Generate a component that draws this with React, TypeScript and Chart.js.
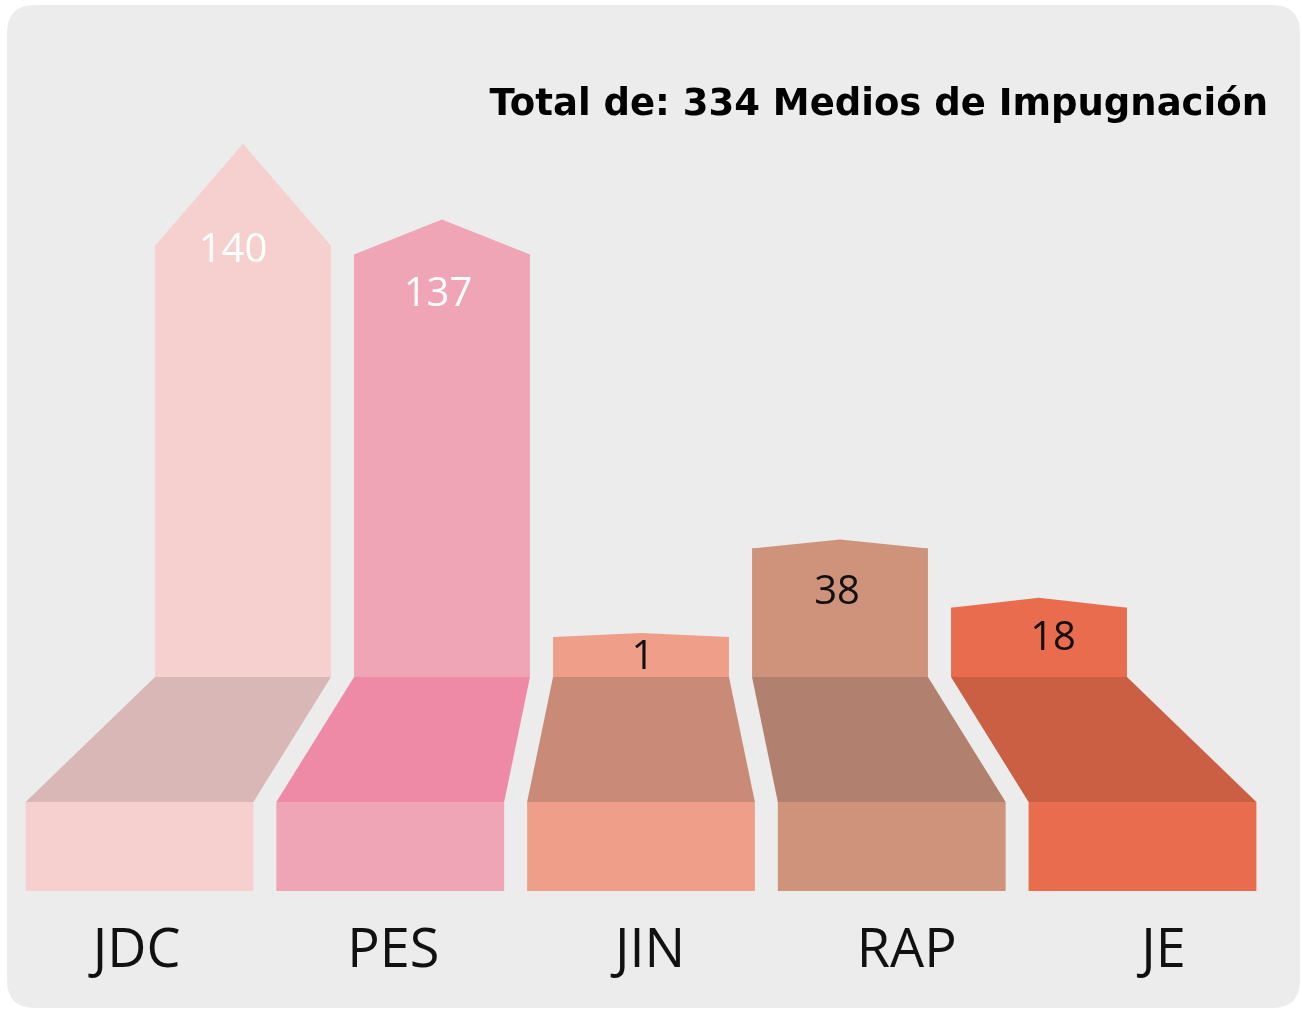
import React, { useEffect, useRef } from "react";
import { Chart, registerables } from "chart.js";

Chart.register(...registerables);

// ---- data ----
const CATEGORIES = ["JDC", "PES", "JIN", "RAP", "JE"];
const COUNTS = [140, 137, 1, 38, 18];
const TITLE = "Total de: 334 Medios de Impugnación";

// ---- styling ----
const BAR_COLORS = ["#f6d0cf", "#f0a5b7", "#ef9f89", "#cf937b", "#e96c4e"];
const FLOOR_COLORS = ["#d9b7b6", "#ee89a6", "#c98a77", "#b2806e", "#cb5f43"];
const VALUE_COLORS = ["#ffffff", "#ffffff", "#111111", "#111111", "#111111"];
const TIP_RISE = [102, 35, 4, 9, 10];
const LABEL_DROP = [5, 40, 21, 44, 31];
const LABEL_NUDGE = [-10, -4, 2, -3, 14];

const W = 1302;
const H = 1009;
const Y_MIN = -5.3;
const Y_MAX = 150;
const FLOOR_DEPTH = 125;
const FRONT_HEIGHT = 89;
const FLOOR_POS_SPREAD = 1.26;
const FLOOR_WIDTH_SPREAD = 1.295;
const LABEL_SPREAD = 1.29;
const LABEL_SHIFT = 9;
const LABEL_BASELINE_GAP = 290;

function roundRect(ctx: CanvasRenderingContext2D, x: number, y: number, w: number, h: number, r: number) {
  ctx.beginPath();
  ctx.moveTo(x + r, y);
  ctx.lineTo(x + w - r, y);
  ctx.quadraticCurveTo(x + w, y, x + w, y + r);
  ctx.lineTo(x + w, y + h - r);
  ctx.quadraticCurveTo(x + w, y + h, x + w - r, y + h);
  ctx.lineTo(x + r, y + h);
  ctx.quadraticCurveTo(x, y + h, x, y + h - r);
  ctx.lineTo(x, y + r);
  ctx.quadraticCurveTo(x, y, x + r, y);
  ctx.closePath();
}

const infographicPlugin = {
  id: "infographic",
  beforeDraw(chart: any) {
    const ctx: CanvasRenderingContext2D = chart.ctx;
    ctx.save();
    ctx.fillStyle = "#ffffff";
    ctx.fillRect(0, 0, chart.width, chart.height);
    ctx.fillStyle = "#ececec";
    roundRect(ctx, 7, 5, 1293, 1003, 28);
    ctx.fill();
    ctx.fillStyle = "#000000";
    ctx.font = "bold 37px 'DejaVu Sans'";
    ctx.textAlign = "right";
    ctx.textBaseline = "alphabetic";
    ctx.fillText(TITLE, 1268, 115);
    ctx.restore();
  },
  afterDatasetsDraw(chart: any) {
    const ctx: CanvasRenderingContext2D = chart.ctx;
    const area = chart.chartArea;
    const cx = (area.left + area.right) / 2;
    const meta = chart.getDatasetMeta(0);
    ctx.save();
    meta.data.forEach((bar: any, i: number) => {
      const { x, y, base, width } = bar.getProps(["x", "y", "base", "width"], true);
      const x0 = x - width / 2;
      const x1 = x + width / 2;
      // pointed top
      ctx.fillStyle = BAR_COLORS[i];
      ctx.beginPath();
      ctx.moveTo(x0, y + 1);
      ctx.lineTo(x0, y);
      ctx.lineTo(x, y - TIP_RISE[i]);
      ctx.lineTo(x1, y);
      ctx.lineTo(x1, y + 1);
      ctx.closePath();
      ctx.fill();
      // perspective floor
      const fx = cx + (x - cx) * FLOOR_POS_SPREAD;
      const fw = width * FLOOR_WIDTH_SPREAD;
      const fy = base + FLOOR_DEPTH;
      ctx.fillStyle = FLOOR_COLORS[i];
      ctx.beginPath();
      ctx.moveTo(x0, base);
      ctx.lineTo(x1, base);
      ctx.lineTo(fx + fw / 2, fy);
      ctx.lineTo(fx - fw / 2, fy);
      ctx.closePath();
      ctx.fill();
      // front block
      ctx.fillStyle = BAR_COLORS[i];
      ctx.fillRect(fx - fw / 2, fy, fw, FRONT_HEIGHT);
      // value label
      ctx.fillStyle = VALUE_COLORS[i];
      ctx.font = "40px 'Open Sans'";
      ctx.textAlign = "center";
      ctx.textBaseline = "middle";
      ctx.fillText(String(COUNTS[i]), x + LABEL_NUDGE[i], y + LABEL_DROP[i]);
      // category label
      ctx.fillStyle = "#111111";
      ctx.font = "54px 'Open Sans'";
      ctx.textBaseline = "alphabetic";
      const lx = cx + LABEL_SHIFT + (x - cx) * LABEL_SPREAD;
      ctx.fillText(CATEGORIES[i], lx, base + LABEL_BASELINE_GAP);
    });
    ctx.restore();
  },
};

export default function App() {
  const canvasRef = useRef<HTMLCanvasElement | null>(null);

  useEffect(() => {
    if (!canvasRef.current) return;
    const chart = new Chart(canvasRef.current, {
      type: "bar",
      data: {
        labels: CATEGORIES,
        datasets: [
          {
            data: COUNTS,
            backgroundColor: BAR_COLORS,
            borderWidth: 0,
            base: Y_MIN,
            minBarLength: 40,
            barPercentage: 0.884,
            categoryPercentage: 1,
          } as any,
        ],
      },
      options: {
        animation: false,
        responsive: false,
        devicePixelRatio: 1,
        events: [],
        layout: { padding: { left: 143.5, right: 163.5, top: 216, bottom: 332 } },
        scales: {
          x: { display: false },
          y: { display: false, min: Y_MIN, max: Y_MAX },
        },
        plugins: {
          legend: { display: false },
          tooltip: { enabled: false },
        },
      },
      plugins: [infographicPlugin],
    });
    return () => chart.destroy();
  }, []);

  return (
    <div style={{ position: "absolute", left: 0, top: 0, width: W, height: H }}>
      <canvas ref={canvasRef} width={W} height={H} style={{ display: "block" }} />
    </div>
  );
}
